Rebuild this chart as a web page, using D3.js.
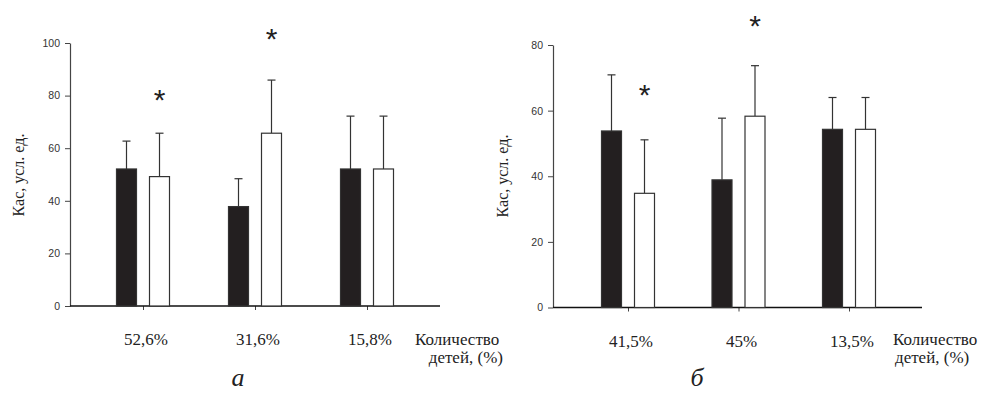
<!DOCTYPE html>
<html>
<head>
<meta charset="utf-8">
<script src="https://cdn.jsdelivr.net/npm/d3@7/dist/d3.min.js"></script>
<style>
  body { margin: 0; background: #fff; }
  svg { display: block; }
  .tick text { font-family: 'Liberation Sans', Arial, sans-serif; font-size: 10.5px; fill: #333; }
</style>
</head>
<body>
<svg width="983" height="396"></svg>
<script>
var SERIF = "'Liberation Serif', 'Times New Roman', Times, 'DejaVu Serif', serif";

// panel a
var categoriesA = ['52,6%', '31,6%', '15,8%'];
var darkA = [52.1, 37.8, 52.1];
var darkErrA = [10.6, 10.6, 20.1];
var lightA = [49.2, 65.7, 52.1];
var lightErrA = [16.5, 20.2, 20.1];
var starA = [81, 104, null];
var ticksA = [0, 20, 40, 60, 80, 100];

// panel b
var categoriesB = ['41,5%', '45%', '13,5%'];
var darkB = [53.8, 38.9, 54.3];
var darkErrB = [17.1, 18.8, 9.7];
var lightB = [34.8, 58.3, 54.3];
var lightErrB = [16.3, 15.4, 9.7];
var starB = [67, 88, null];
var ticksB = [0, 20, 40, 60, 80];

var svg = d3.select('svg');

drawPanel({
  cats: categoriesA, dark: darkA, darkErr: darkErrA, light: lightA, lightErr: lightErrA,
  stars: starA, ticks: ticksA,
  x0: 70, xEnd: 440, y0: 306, yTop: 43,
  catFrom: 73, catTo: 297,
  ylabX: 18, ylabY: 175,
  qty: { x: 415, anchor: 'start' }, kids: { x: 503, anchor: 'end' },
  letter: 'а', letterX: 238
});

drawPanel({
  cats: categoriesB, dark: darkB, darkErr: darkErrB, light: lightB, lightErr: lightErrB,
  stars: starB, ticks: ticksB,
  x0: 553, xEnd: 922, y0: 307.5, yTop: 45,
  catFrom: 75, catTo: 296,
  ylabX: 502, ylabY: 176,
  qty: { x: 893, anchor: 'start' }, kids: { x: 895, anchor: 'start' },
  letter: 'б', letterX: 697
});

function serifText(sel, size) {
  return sel
    .style('font-family', SERIF)
    .style('font-size', size + 'px')
    .style('fill', '#222');
}

function drawPanel(p) {
  var g = svg.append('g');
  var barW = 20, gap = 13;

  var y = d3.scaleLinear()
    .domain([0, d3.max(p.ticks)])
    .range([p.y0, p.yTop]);

  var x = d3.scalePoint()
    .domain(p.cats)
    .range([p.x0 + p.catFrom, p.x0 + p.catTo]);

  // y axis
  var yAxis = g.append('g')
    .attr('transform', 'translate(' + p.x0 + ',0)')
    .call(d3.axisLeft(y).tickValues(p.ticks).tickSize(5).tickSizeOuter(0).tickPadding(5));
  yAxis.select('.domain').attr('stroke', '#444').attr('stroke-width', 1.2);
  yAxis.selectAll('.tick line').attr('stroke', '#444');

  // x axis: ticks from the scale, baseline drawn across the full panel
  var xAxis = g.append('g')
    .attr('transform', 'translate(0,' + p.y0 + ')')
    .call(d3.axisBottom(x).tickSize(4).tickFormat(''));
  xAxis.select('.domain').remove();
  xAxis.selectAll('.tick line').attr('stroke', '#444');

  g.append('line')
    .attr('x1', p.x0).attr('x2', p.xEnd)
    .attr('y1', p.y0).attr('y2', p.y0)
    .attr('stroke', '#111').attr('stroke-width', 1.5);

  var rows = p.cats.map(function(c, i) {
    return [
      { cat: c, v: p.dark[i], e: p.darkErr[i], dark: true, bx: x(c) - gap / 2 - barW },
      { cat: c, v: p.light[i], e: p.lightErr[i], dark: false, bx: x(c) + gap / 2 }
    ];
  });
  var bars = [].concat.apply([], rows);

  // error bars first, so bars sit on top
  var err = g.append('g').selectAll('g')
    .data(bars)
    .enter().append('g')
    .attr('stroke', '#333')
    .attr('stroke-width', 1.2);

  err.append('line')
    .attr('x1', function(d) { return d.bx + barW / 2; })
    .attr('x2', function(d) { return d.bx + barW / 2; })
    .attr('y1', function(d) { return y(d.v); })
    .attr('y2', function(d) { return y(d.v + d.e); });

  err.append('line')
    .attr('x1', function(d) { return d.bx + barW / 2 - 4; })
    .attr('x2', function(d) { return d.bx + barW / 2 + 4; })
    .attr('y1', function(d) { return y(d.v + d.e); })
    .attr('y2', function(d) { return y(d.v + d.e); });

  g.append('g').selectAll('rect')
    .data(bars)
    .enter().append('rect')
    .attr('x', function(d) { return d.bx; })
    .attr('y', function(d) { return y(d.v); })
    .attr('width', barW)
    .attr('height', function(d) { return p.y0 - y(d.v); })
    .style('fill', function(d) { return d.dark ? '#231f20' : '#fff'; })
    .style('stroke', '#333')
    .style('stroke-width', 1.2);

  // significance marks over the light bars
  g.append('g').selectAll('text')
    .data(p.stars.map(function(s, i) { return { s: s, cat: p.cats[i] }; })
      .filter(function(d) { return d.s !== null; }))
    .enter().append('text')
    .attr('x', function(d) { return x(d.cat) + gap / 2 + barW / 2; })
    .attr('y', function(d) { return y(d.s) + 17; })
    .attr('text-anchor', 'middle')
    .style('font-family', "'Liberation Sans', Arial, sans-serif")
    .style('font-size', '30px')
    .style('fill', '#222')
    .text('*');

  // category labels
  g.append('g').selectAll('text')
    .data(p.cats)
    .enter().append('text')
    .attr('x', function(d) { return x(d) + 3; })
    .attr('y', p.y0 + 39)
    .attr('text-anchor', 'middle')
    .call(serifText, 17)
    .text(function(d) { return d; });

  g.append('text')
    .attr('x', p.qty.x).attr('y', 345)
    .attr('text-anchor', p.qty.anchor)
    .call(serifText, 17)
    .text('Количество');

  g.append('text')
    .attr('x', p.kids.x).attr('y', 363)
    .attr('text-anchor', p.kids.anchor)
    .call(serifText, 17)
    .text('детей, (%)');

  g.append('text')
    .attr('transform', 'translate(' + p.ylabX + ',' + p.ylabY + ') rotate(-90)')
    .attr('dy', '0.35em')
    .attr('text-anchor', 'middle')
    .call(serifText, 16)
    .text('Кас, усл. ед.');

  g.append('text')
    .attr('x', p.letterX).attr('y', 386)
    .attr('text-anchor', 'middle')
    .call(serifText, 26)
    .style('font-style', 'italic')
    .text(p.letter);
}
</script>
</body>
</html>
